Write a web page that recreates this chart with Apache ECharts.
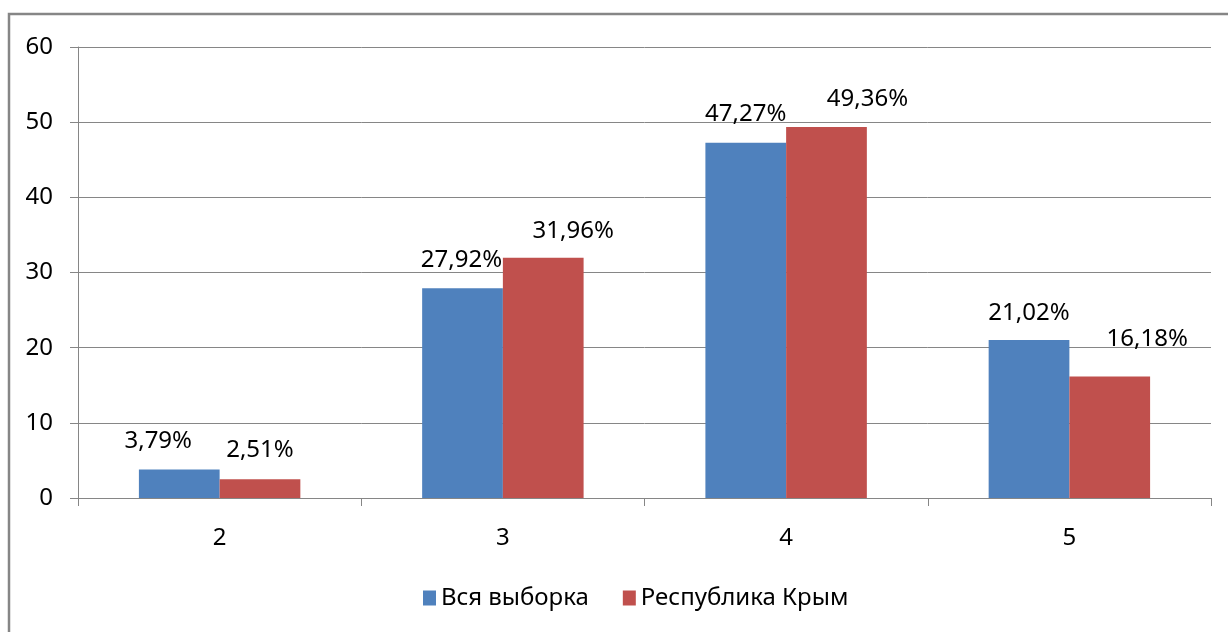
<!DOCTYPE html>
<html>
<head>
<meta charset="utf-8">
<script src="https://cdn.jsdelivr.net/npm/echarts@6/dist/echarts.min.js"></script>
<style>
  html, body { margin: 0; padding: 0; background: #fff; }
  #chart { width: 1228px; height: 632px; }
</style>
</head>
<body>
<div id="chart"></div>
<script>
const categories = ['2', '3', '4', '5'];
const seriesNames = ['Вся выборка', 'Республика Крым'];
const sampleAll = [3.79, 27.92, 47.27, 21.02];
const crimea = [2.51, 31.96, 49.36, 16.18];
const yTicks = [0, 10, 20, 30, 40, 50, 60];

// label placement tweaks (styling only)
const blueLabelShift = [[-21, 0], [-1, 0], [0, -1], [0, 1.5]];
const redLabelShift = [[0, -1], [30, 1], [41, 0], [37.5, -9]];

const FONT = 'Noto Sans';
const FS = 24;
const fmt = v => v.toFixed(2).replace('.', ',') + '%';

function buildData(values, shifts) {
  return values.map((v, i) => ({
    value: v,
    label: { offset: shifts[i] }
  }));
}

const chart = echarts.init(document.getElementById('chart'), null, { renderer: 'canvas' });
chart.setOption({
  animation: false,
  backgroundColor: '#ffffff',
  textStyle: { fontFamily: FONT },
  graphic: [{
    type: 'rect',
    shape: { x: 9, y: 14, width: 1240, height: 640 },
    style: { fill: 'none', stroke: '#868686', lineWidth: 2.5 },
    silent: true
  }],
  grid: { left: 78, right: 17, top: 47, bottom: 134 },
  legend: {
    data: seriesNames,
    bottom: 17,
    left: 418,
    itemWidth: 13,
    itemHeight: 15,
    itemGap: 34,
    icon: 'rect',
    textStyle: { fontFamily: FONT, fontSize: FS, color: '#000' }
  },
  xAxis: {
    type: 'category',
    data: categories,
    axisLine: { lineStyle: { color: '#868686', width: 1 } },
    axisTick: { show: true, length: 8, interval: 0, alignWithLabel: false, lineStyle: { color: '#868686' } },
    axisLabel: { fontFamily: FONT, fontSize: FS, color: '#000', margin: 28 },
    splitLine: { show: false }
  },
  yAxis: {
    type: 'value',
    min: yTicks[0],
    max: yTicks[yTicks.length - 1],
    interval: 10,
    axisLine: { show: true, lineStyle: { color: '#868686', width: 1 } },
    axisTick: { show: true, length: 8, lineStyle: { color: '#868686' } },
    axisLabel: { fontFamily: FONT, fontSize: FS, color: '#000', margin: 25 },
    splitLine: { show: true, lineStyle: { color: '#868686', width: 1 } }
  },
  series: [
    {
      name: seriesNames[0],
      type: 'bar',
      data: buildData(sampleAll, blueLabelShift),
      itemStyle: { color: '#4F81BD' },
      barGap: '0%',
      barCategoryGap: '43%',
      label: {
        show: true, position: 'top', distance: 16,
        fontFamily: FONT, fontSize: FS, color: '#000',
        formatter: p => fmt(p.value)
      }
    },
    {
      name: seriesNames[1],
      type: 'bar',
      data: buildData(crimea, redLabelShift),
      itemStyle: { color: '#C0504D' },
      barGap: '0%',
      barCategoryGap: '43%',
      label: {
        show: true, position: 'top', distance: 16,
        fontFamily: FONT, fontSize: FS, color: '#000',
        formatter: p => fmt(p.value)
      }
    }
  ]
});
</script>
</body>
</html>
